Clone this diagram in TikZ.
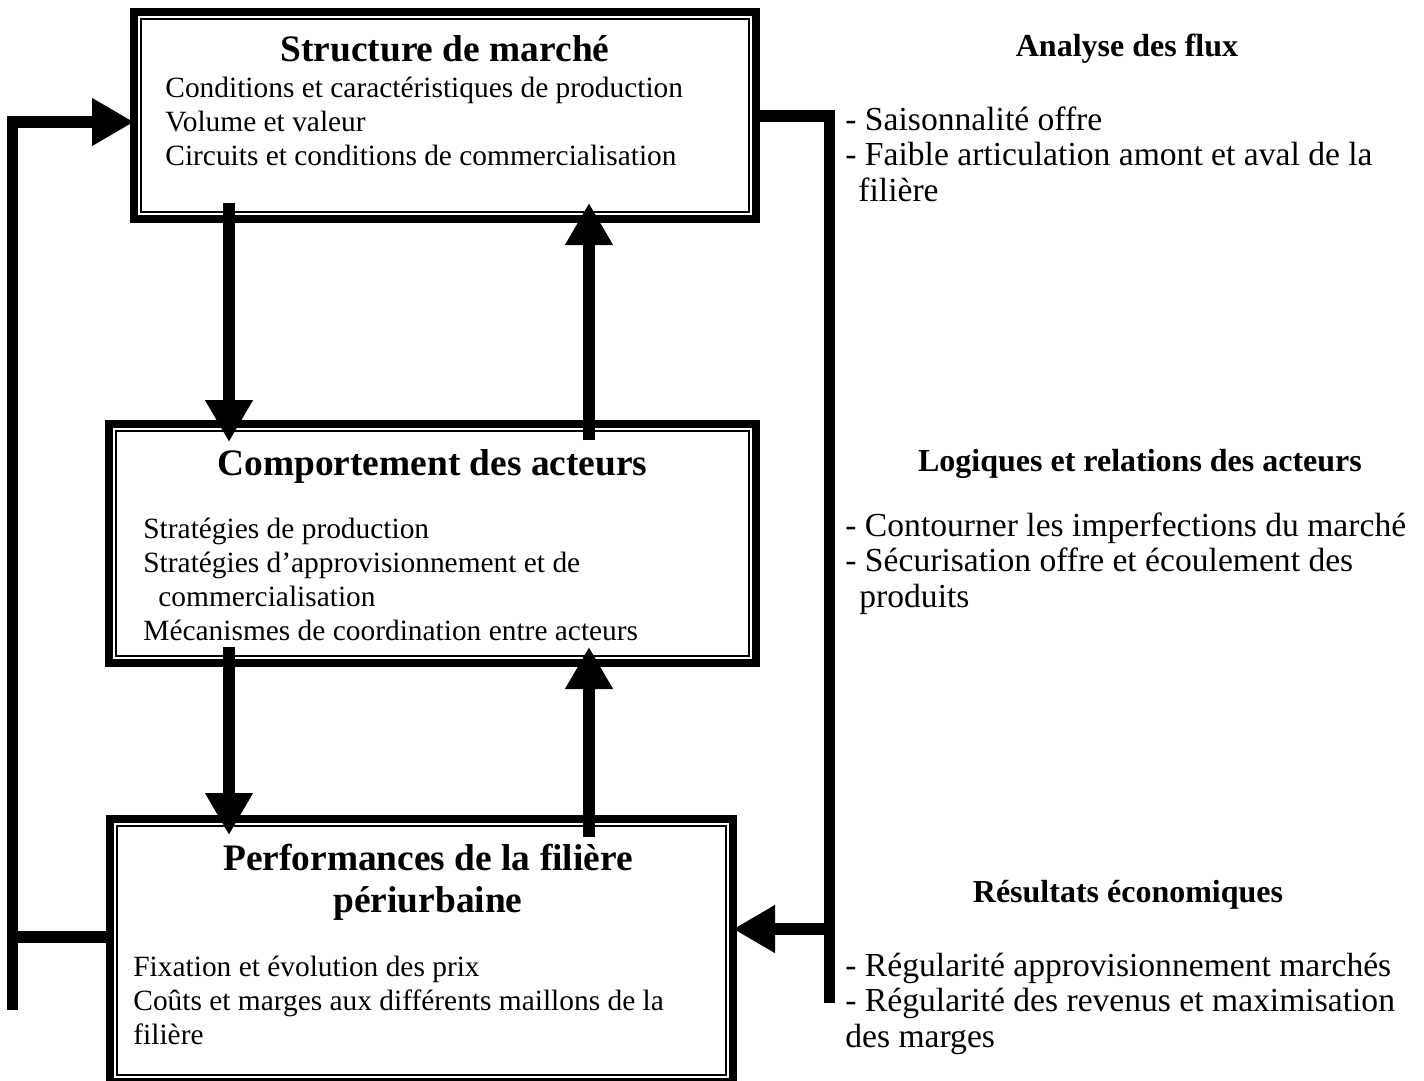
\documentclass[tikz,border=0pt]{standalone}
\usepackage{fontspec}
\setmainfont{Liberation Serif}
\usetikzlibrary{arrows.meta, positioning, calc}

\begin{document}
\begin{tikzpicture}[
    x=0.5pt, y=-0.5pt,
    box/.style={rectangle, draw=black, line width=4pt, inner sep=0pt, outer sep=0pt},
    inner/.style={draw=black, line width=1pt},
    title/.style={anchor=base, inner sep=0pt, align=center, font=\fontsize{18.7}{21}\selectfont\bfseries},
    body/.style={anchor=base west, inner sep=0pt, align=left, font=\fontsize{14.7}{17}\selectfont},
    head/.style={anchor=base, inner sep=0pt, font=\fontsize{16}{18}\selectfont\bfseries},
    note/.style={anchor=base west, inner sep=0pt, align=left, font=\fontsize{16.8}{17.75}\selectfont},
    link/.style={line width=5.75pt},
    arrow/.style={link, -{Triangle[width=22.5pt, length=21pt]}}
]
\useasboundingbox (0,0) rectangle (1424,1081);

% Boxes (thick outer line, thin inner line)
\node[box, minimum width=311pt, minimum height=103.5pt] (struct) at (445,115.5) {};
\node[box, minimum width=323.5pt, minimum height=119.5pt] (behav) at (432.5,543.5) {};
\node[box, minimum width=311.5pt, minimum height=131.5pt] (perf) at (421.5,950.5) {};
\draw[inner] ($(struct.north west)+(7,7)$) rectangle ($(struct.south east)+(-7,-7)$);
\draw[inner] ($(behav.north west)+(7,7)$) rectangle ($(behav.south east)+(-7,-7)$);
\draw[inner] ($(perf.north west)+(7,7)$) rectangle ($(perf.south east)+(-7,-7)$);

% Box texts (multi-line nodes sit on their last line)
\node[title] (struct-t) at (445,62) {Structure de marché};
\node[body] (struct-b) at (165,165) {Conditions et caractéristiques de production\\Volume et valeur\\Circuits et conditions de commercialisation};

\node[title] (behav-t) at (432.5,475) {Comportement des acteurs};
\node[body] (behav-b) at (143,640) {Stratégies de production\\Stratégies d’approvisionnement et de\\\hspace*{7.5pt}commercialisation\\Mécanismes de coordination entre acteurs};

\node[title] (perf-t) at (428,912) {Performances de la filière\\périurbaine};
\node[body] (perf-b) at (133,1044) {Fixation et évolution des prix\\Coûts et marges aux différents maillons de la\\filière};

% Notes on the right
\node[head] (flux-t) at (1127,57) {Analyse des flux};
\node[note] (flux-b) at (845,201) {- Saisonnalité offre\\- Faible articulation amont et aval de la\\\hspace*{6.5pt}filière};

\node[head] (logic-t) at (1140,471) {Logiques et relations des acteurs};
\node[note] (logic-b) at (845,607) {- Contourner les imperfections du marché\\- Sécurisation offre et écoulement des\\\hspace*{7pt}produits};

\node[head] (result-t) at (1128,902) {Résultats économiques};
\node[note] (result-b) at (845,1047) {- Régularité approvisionnement marchés\\- Régularité des revenus et maximisation\\des marges};

% Vertical arrows between boxes
\coordinate (xl) at (229,0);
\coordinate (xr) at (589,0);
\draw[arrow] ($(struct.south -| xl)+(0,-16)$) -- ($(behav.north -| xl)+(0,18)$);
\draw[arrow] ($(behav.north -| xr)+(0,16)$) -- ($(struct.south -| xr)+(0,-16)$);
\draw[arrow] ($(behav.south -| xl)+(0,-16)$) -- ($(perf.north -| xl)+(0,16)$);
\draw[arrow] ($(perf.north -| xr)+(0,18)$) -- ($(behav.south -| xr)+(0,-16)$);

% Feedback loops
\coordinate (lt) at (12.5,122);
\coordinate (lm) at (12.5,937);
\coordinate (lb) at (12.5,1010);
\draw[arrow] (lb) -- (lt) -- (lt -| struct.west);
\draw[link] (perf.west |- lm) -- (lm);

\coordinate (rt) at (829.5,116);
\coordinate (rm) at (829.5,929);
\coordinate (rb) at (829.5,1003);
\draw[link] (struct.east |- rt) -- (rt) -- (rb);
\draw[arrow] (rm) -- (rm -| perf.east);

\end{tikzpicture}
\end{document}
